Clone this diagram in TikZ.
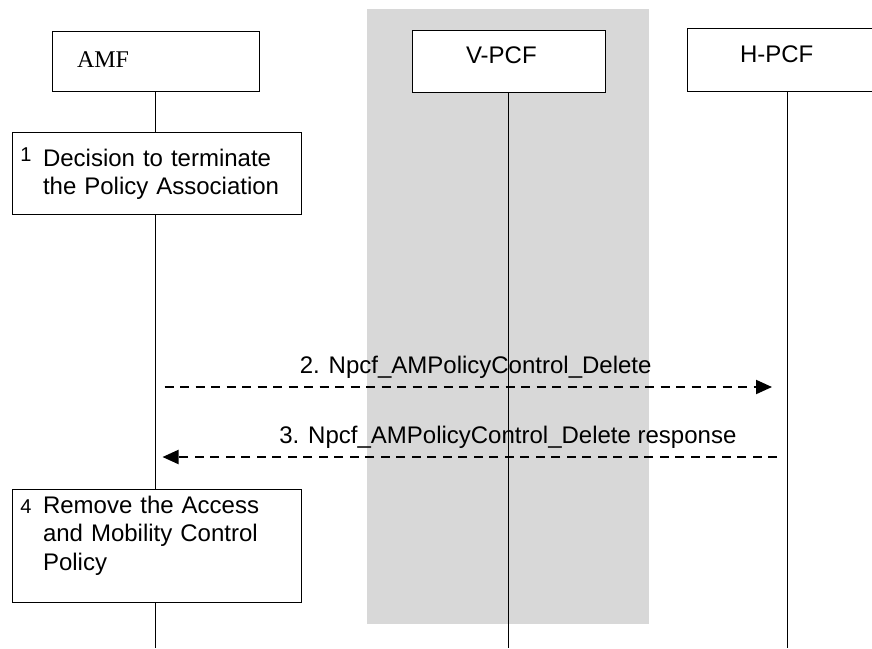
\documentclass[tikz,border=0pt]{standalone}
\usepackage{fontspec}
\setmainfont{Liberation Sans}
\newfontfamily\timesnf{Liberation Serif}
\usetikzlibrary{arrows.meta,backgrounds}
\definecolor{vshade}{HTML}{D8D8D8}

\begin{document}
\begin{tikzpicture}[
    x=1pt, y=-1pt,
    every node/.style={font=\fontsize{24}{28.5}\selectfont},
    entity/.style={draw, line width=1pt, fill=white, align=left, inner ysep=0pt},
    action/.style={draw, line width=1pt, fill=white, align=left, text width=227pt, inner xsep=31pt, inner ysep=0pt, minimum width=289pt},
    num/.style={font=\fontsize{20}{20}\selectfont, inner sep=0pt},
    lifeline/.style={line width=1pt},
    msg/.style={line width=2pt, dash pattern=on 9pt off 6.5pt, -{Triangle[length=16pt, width=14pt]}},
    lbl/.style={inner sep=0pt, anchor=base}
]
\useasboundingbox (0,0) rectangle (872,648);
\clip (0,0) rectangle (872,648);

% entities
\node[entity, text width=157pt, inner xsep=25pt, minimum height=60pt, text height=16pt, text depth=4pt, font=\timesnf\fontsize{24}{28.5}\selectfont] (amf) at (155.5,61) {AMF};
\node[entity, text width=85pt, inner xsep=54pt, minimum height=62pt, text height=12pt, text depth=8pt] (vpcf) at (508.5,61) {V-PCF};
\node[entity, text width=94pt, inner xsep=53pt, minimum height=63pt, text height=12pt, text depth=7pt] (hpcf) at (787,59.5) {H-PCF};

% steps
\node[action, minimum height=82pt, text height=18pt, text depth=32pt] (act1) at (156.5,173) {\mbox{Decision to terminate}\\\mbox{the Policy Association}};
\node[num, anchor=base] (n1) at (26,161) {1};
\node[action, minimum height=113pt, text height=18pt, text depth=83pt] (act4) at (156.5,545.5) {\mbox{Remove the Access}\\\mbox{and Mobility Control}\\Policy};
\node[num, anchor=base] (n4) at (26,513) {4};

\coordinate (bottom) at (0,648);
\coordinate (m2) at (0,387);
\coordinate (m3) at (0,457);

\draw[msg, shorten <=9pt, shorten >=15pt] (amf.south |- m2) -- node[lbl, pos=0.507, yshift=14pt] (l2) {2. Npcf\_AMPolicyControl\_Delete} (hpcf.south |- m2);
\draw[msg, shorten <=10pt, shorten >=7pt] (hpcf.south |- m3) -- node[lbl, pos=0.442, yshift=14pt] (l3) {3. Npcf\_AMPolicyControl\_Delete response} (amf.south |- m3);

\begin{scope}[on background layer]
\fill[vshade] (367,9) rectangle (649,624);
\draw[lifeline] (amf.south) -- (amf.south |- bottom);
\draw[lifeline] (vpcf.south) -- (vpcf.south |- bottom);
\draw[lifeline] (hpcf.south) -- (hpcf.south |- bottom);
\end{scope}
\end{tikzpicture}
\end{document}
